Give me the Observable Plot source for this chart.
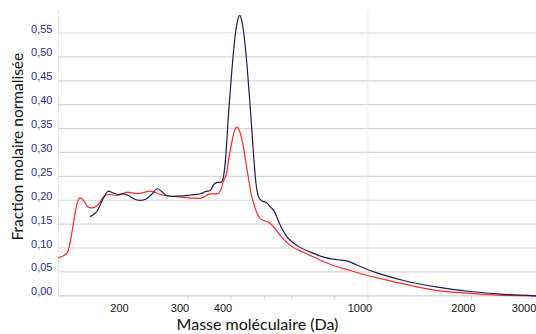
<!DOCTYPE html>
<html>
<head>
<meta charset="utf-8">
<script src="https://cdn.jsdelivr.net/npm/d3@7"></script>
<script src="https://cdn.jsdelivr.net/npm/@observablehq/plot@0.6"></script>
<style>
  html, body { margin: 0; padding: 0; background: #fff; }
  #chart svg { display: block; }
</style>
</head>
<body>
<div id="chart"></div>
<script>
// Red series: [mass (Da), normalized molar fraction]
const redMass = [126.1,130.3,133.9,135.7,137.5,140.3,143.0,146.0,150.0,153.0,157.2,163.6,170.3,176.1,187.0,200,213.8,233.3,249.4,285.1,326.1,348.5,365.3,372.7,380.2,388.0,394.5,403.0,409.3,416.9,423.3,431.1,440.6,450.4,458.6,465.7,476.4,487.1,513.9,532.4,556.7,595.4,649.6,713.4,794.0,889.7,996.8,1073,1269,1593,1987,2477,3090];
const redValue = [0.080,0.084,0.091,0.105,0.127,0.165,0.195,0.205,0.197,0.187,0.184,0.189,0.207,0.212,0.210,0.217,0.214,0.219,0.212,0.2065,0.204,0.2135,0.2135,0.220,0.240,0.255,0.290,0.325,0.345,0.353,0.345,0.325,0.285,0.242,0.210,0.193,0.172,0.161,0.154,0.144,0.126,0.105,0.091,0.0775,0.0635,0.053,0.0425,0.037,0.025,0.011,0.005,0.001,0.0];

// Dark (navy) series
const darkMass = [156.1,159.3,163.6,168.1,172.6,176.1,182.1,188.3,194.7,201.3,208.2,218.2,227.1,234.8,244.5,251.1,259.7,272.1,291.0,304.9,326.1,337.1,348.5,355.6,362.8,375.1,381.5,385.4,394.0,403.0,412.0,417.6,424.2,429.1,435.7,445.6,455.6,465.7,471.1,481.6,493.6,507.1,520.7,532.4,556.7,582.4,622.8,680.7,742.7,815.5,872.0,932.2,996.8,1073,1269,1593,1987,2477,3090];
const darkValue = [0.166,0.170,0.178,0.196,0.212,0.219,0.215,0.212,0.2135,0.210,0.203,0.1996,0.203,0.212,0.224,0.219,0.210,0.208,0.209,0.211,0.2135,0.218,0.2205,0.232,0.237,0.238,0.255,0.285,0.388,0.479,0.549,0.575,0.587,0.578,0.549,0.479,0.388,0.290,0.245,0.2065,0.198,0.195,0.186,0.1786,0.147,0.1227,0.105,0.0913,0.081,0.0754,0.0725,0.064,0.055,0.047,0.032,0.018,0.009,0.003,0.0];

const yTicks = [0,0.05,0.10,0.15,0.20,0.25,0.30,0.35,0.40,0.45,0.50,0.55];
const xTickLabels = [200,300,400,1000,2000,3000];
const xTickMarks = [300,400,500,600,800,1000,2000,3000];
const xGrid = [1000];
const xTitle = "Masse moléculaire (Da)";
const yTitle = "Fraction molaire normalisée";

const red = redMass.map((m, i) => ({m, v: redValue[i]}));
const dark = darkMass.map((m, i) => ({m, v: darkValue[i]}));

const chart = Plot.plot({
  width: 536,
  height: 334,
  marginLeft: 58,
  marginRight: 0,
  marginTop: 11,
  marginBottom: 38.7,
  style: {background: "#fff", fontFamily: "'Liberation Sans', Arial, sans-serif"},
  x: {type: "log", domain: [126.07, 3090]},
  y: {domain: [0, 0.595]},
  marks: [
    Plot.ruleY(yTicks.filter(d => d > 0), {stroke: "#d6d6d6", strokeWidth: 1.2}),
    Plot.ruleY([0], {stroke: "#cfcfcf", strokeWidth: 1.2}),
    Plot.ruleX(xGrid, {stroke: "#ececec", strokeWidth: 1}),
    Plot.ruleX([126.07], {stroke: "#c8c8c8", strokeDasharray: "1,1.5"}),
    Plot.axisY({ticks: yTicks, tickSize: 0, tickPadding: 6, dy: -4, fontSize: 11, fill: "#2a2a8c",
      tickFormat: d => d.toFixed(2).replace(".", ","), label: null}),
    Plot.axisX({ticks: xTickMarks, tickSize: 4, stroke: "#d0d0d0", tickFormat: () => "", label: null}),
    Plot.axisX({ticks: xTickLabels, tickSize: 0, tickPadding: 8, dx: -8, fontSize: 11, fill: "#111",
      tickFormat: d => String(d), label: null}),
    Plot.line(red, {x: "m", y: "v", stroke: "#ff2a2a", strokeWidth: 1.2, curve: "monotone-x"}),
    Plot.line(dark, {x: "m", y: "v", stroke: "#1c1c4e", strokeWidth: 1.2, curve: "monotone-x"}),
    Plot.text([xTitle], {frameAnchor: "bottom", lineAnchor: "middle", dx: -40, dy: 29, fontSize: 16, fill: "#111",
      fontFamily: "Lato, 'Open Sans', sans-serif"}),
    Plot.text([yTitle], {frameAnchor: "left", textAnchor: "middle", lineAnchor: "middle", rotate: -90, dx: -40, dy: -7, fontSize: 15.5, fill: "#111",
      fontFamily: "Lato, 'Open Sans', sans-serif"})
  ]
});
document.getElementById("chart").appendChild(chart);
</script>
</body>
</html>
